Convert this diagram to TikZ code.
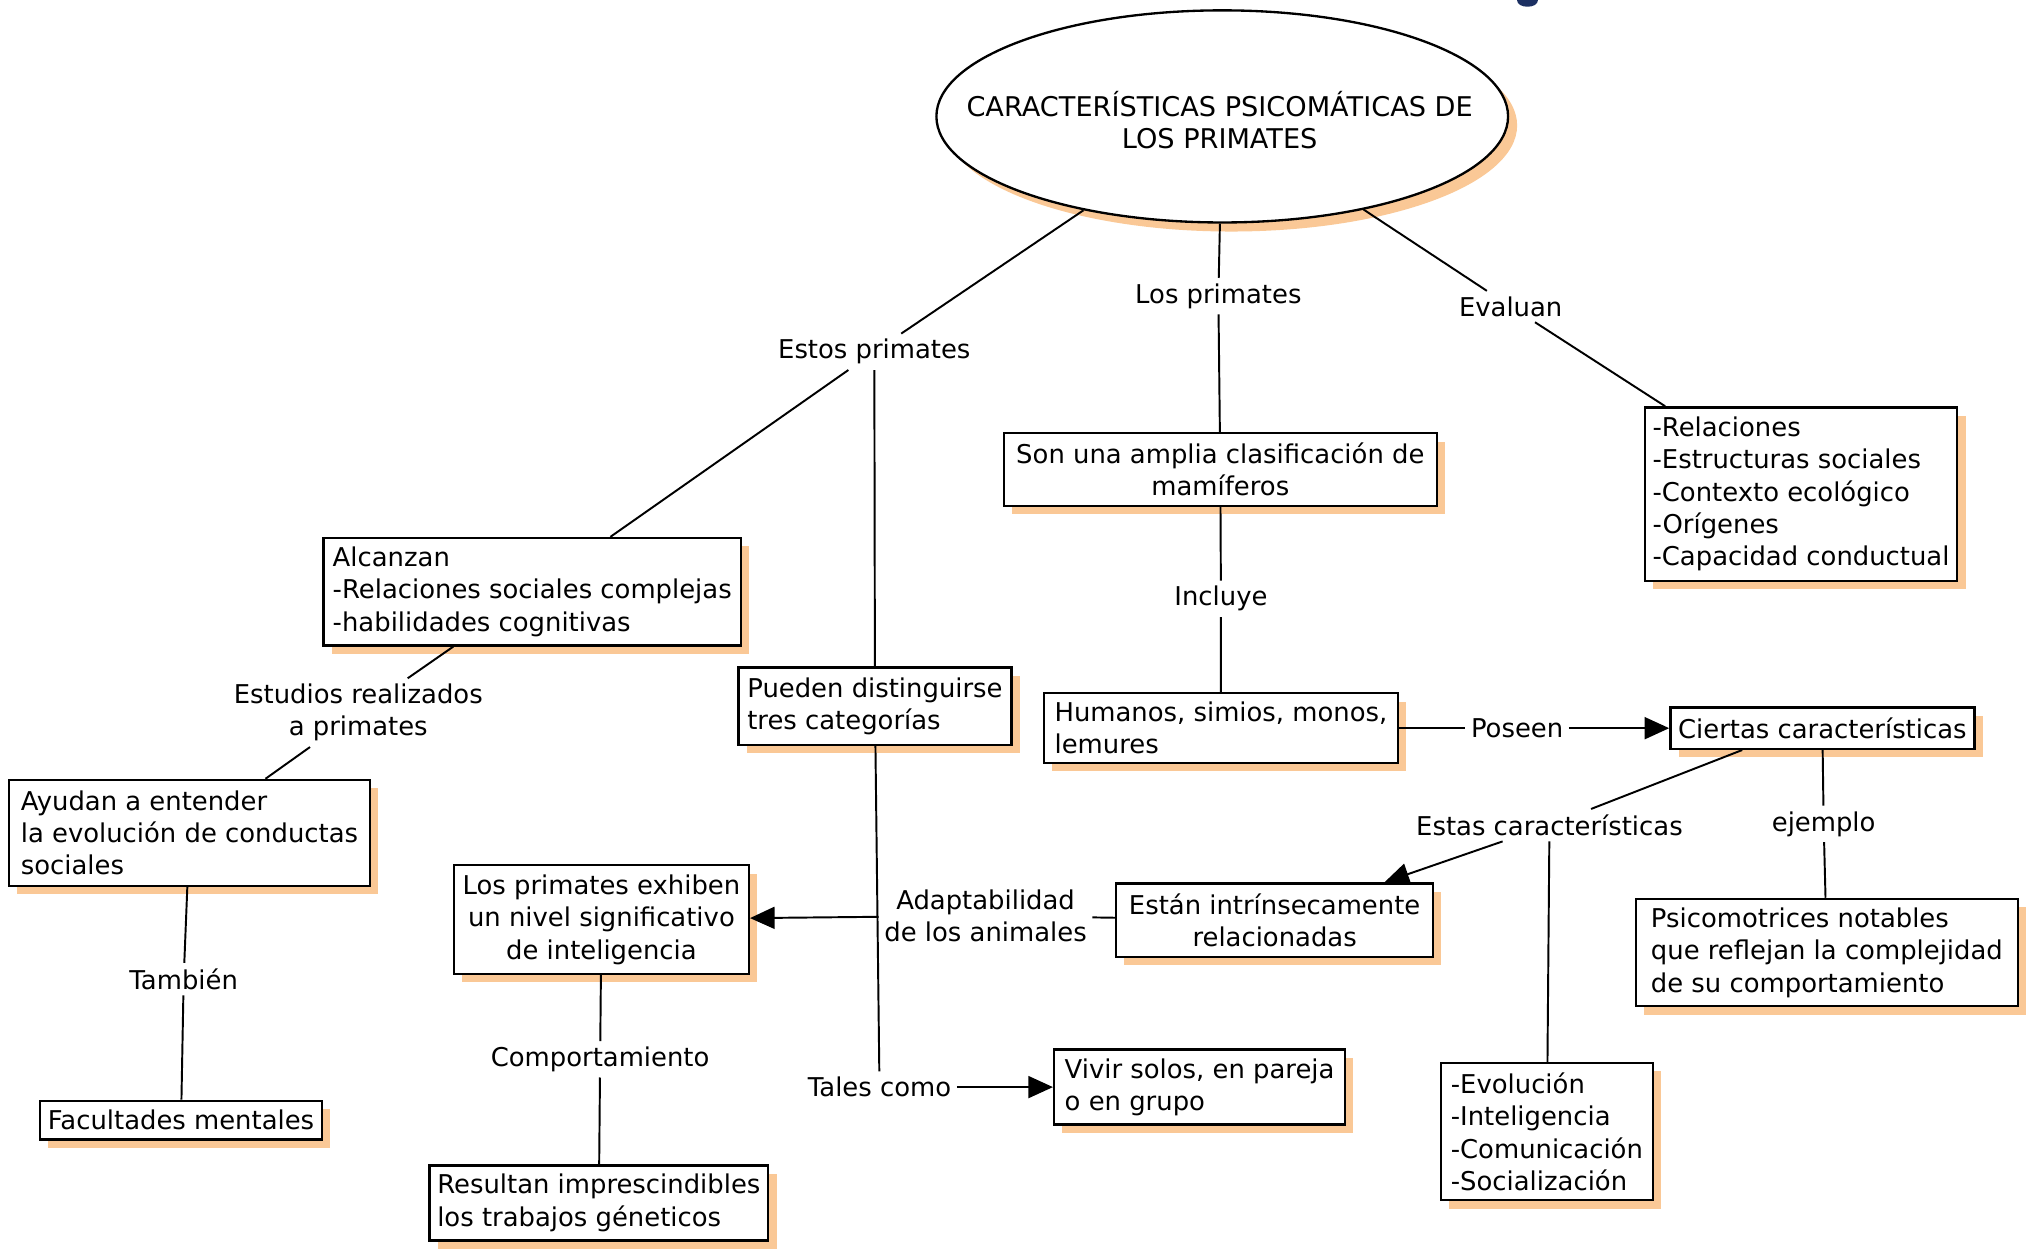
\documentclass[tikz,border=0pt]{standalone}
\usepackage{fontspec}
\setmainfont{DejaVu Sans}
\usetikzlibrary{arrows.meta,shapes.geometric,shadows}
\definecolor{shadowc}{RGB}{250,200,150}
\definecolor{navyblob}{RGB}{28,48,98}
\begin{document}
\begin{tikzpicture}[x=0.5pt,y=-0.5pt,
  font=\fontsize{10}{12.5}\selectfont,
  shad/.style={drop shadow={shadow xshift=3.2pt,shadow yshift=-3.2pt,fill=shadowc,opacity=1}},
  conbox/.style={draw=black,line width=0.9pt,fill=white,inner sep=3pt,align=left,shad},
  cbox/.style={conbox,align=center},
  lbl/.style={inner sep=2pt,align=center},
  con/.style={draw=black,line width=0.75pt},
  arr/.style={-{Triangle[length=9.5pt,width=8.5pt]}}]
\useasboundingbox (0,0) rectangle (1568,966);
\fill[white] (0,0) rectangle (1568,966);
% small cut-off blue mark at the top
\fill[navyblob] (1173,0) .. controls (1173,7) and (1189,7) .. (1189,0) -- cycle;
% root ellipse
\node[ellipse,draw=black,line width=0.9pt,fill=white,minimum width=221pt,minimum height=82pt,inner sep=0pt,
  drop shadow={shadow xshift=3.5pt,shadow yshift=-3.5pt,fill=shadowc,opacity=1}] (root) at (945,90) {};
\node[align=center,font=\fontsize{10.5}{12.5}\selectfont] (title) at (943,93) {CARACTERÍSTICAS PSICOMÁTICAS DE\\LOS PRIMATES};
% boxes
\node[cbox,minimum width=167.5pt,minimum height=28pt] (son) at (943.5,363) {Son una amplia clasificación de\\mamíferos};
\node[conbox,minimum width=120.5pt,minimum height=67pt] (rel) at (1392.5,382) {-Relaciones\\-Estructuras sociales\\-Contexto ecológico\\-Orígenes\\-Capacidad conductual};
\node[conbox,minimum width=161.5pt,minimum height=41.5pt] (alc) at (411.5,457.5) {Alcanzan\\-Relaciones sociales complejas\\-habilidades cognitivas};
\node[conbox,minimum width=105.5pt,minimum height=30pt] (pue) at (676.5,546) {Pueden distinguirse\\tres categorías};
\node[conbox,minimum width=137pt,minimum height=27pt] (hum) at (944,563) {Humanos, simios, monos,\\lemures};
\node[conbox,minimum width=117pt,minimum height=16pt] (cie) at (1409,563) {Ciertas características};
\node[conbox,minimum width=139.5pt,minimum height=41pt] (ayu) at (146.5,644) {Ayudan a entender\\la evolución de conductas\\sociales};
\node[cbox,minimum width=114pt,minimum height=42pt] (exh) at (465,711) {Los primates exhiben\\un nivel significativo\\de inteligencia};
\node[cbox,minimum width=122.5pt,minimum height=28.5pt] (est) at (985.5,711.5) {Están intrínsecamente\\relacionadas};
\node[conbox,minimum width=147.5pt,minimum height=41.5pt] (psi) at (1412.5,736.5) {Psicomotrices notables\\que reflejan la complejidad\\de su comportamiento};
\node[conbox,minimum width=109pt,minimum height=15pt] (fac) at (140,866) {Facultades mentales};
\node[conbox,minimum width=112.5pt,minimum height=29pt] (viv) at (927.5,840.5) {Vivir solos, en pareja\\o en grupo};
\node[conbox,minimum width=82pt,minimum height=53pt] (evo) at (1196,875) {-Evolución\\-Inteligencia\\-Comunicación\\-Socialización};
\node[conbox,minimum width=131pt,minimum height=29pt] (res) at (463,930) {Resultan imprescindibles\\los trabajos géneticos};
% labels
\node[lbl] (lEstos) at (676,272) {Estos primates};
\node[lbl] (lLos) at (942,229) {Los primates};
\node[lbl] (lEval) at (1168,237) {Evaluan};
\node[lbl] (lInc) at (944,463) {Incluye};
\node[lbl] (lEst) at (277,551) {Estudios realizados\\a primates};
\node[lbl] (lPos) at (1173,563) {Poseen};
\node[lbl] (lEstas) at (1198,638) {Estas características};
\node[lbl] (lEj) at (1410,637) {ejemplo};
\node[lbl] (lAda) at (762,708) {Adaptabilidad\\de los animales};
\node[lbl] (lTam) at (142,757) {También};
\node[lbl] (lCom) at (464,819) {Comportamiento};
\node[lbl] (lTal) at (680,840.5) {Tales como};
% connectors
\draw[con] (root) -- (lEstos) -- (alc);
\draw[con] (lEstos) -- (pue);
\draw[con] (root) -- (lLos) -- (son);
\draw[con] (root) -- (lEval) -- (rel);
\draw[con] (son) -- (lInc) -- (hum);
\draw[con] (hum) -- (lPos);
\draw[con,arr] (lPos) -- (cie);
\draw[con] ([xshift=-31pt]cie.south) -- (lEstas);
\draw[con,arr] (lEstas) -- (est);
\draw[con] (lEstas) -- (evo);
\draw[con] (cie) -- (lEj) -- (psi);
\draw[con] (est) -- (lAda);
\draw[con,arr] (lAda) -- (exh);
\draw[con] (pue) -- (lTal);
\draw[con,arr] (lTal) -- (viv);
\draw[con] (alc) -- (lEst) -- (ayu);
\draw[con] (ayu) -- (lTam) -- (fac);
\draw[con] (exh) -- (lCom) -- (res);
\end{tikzpicture}
\end{document}
